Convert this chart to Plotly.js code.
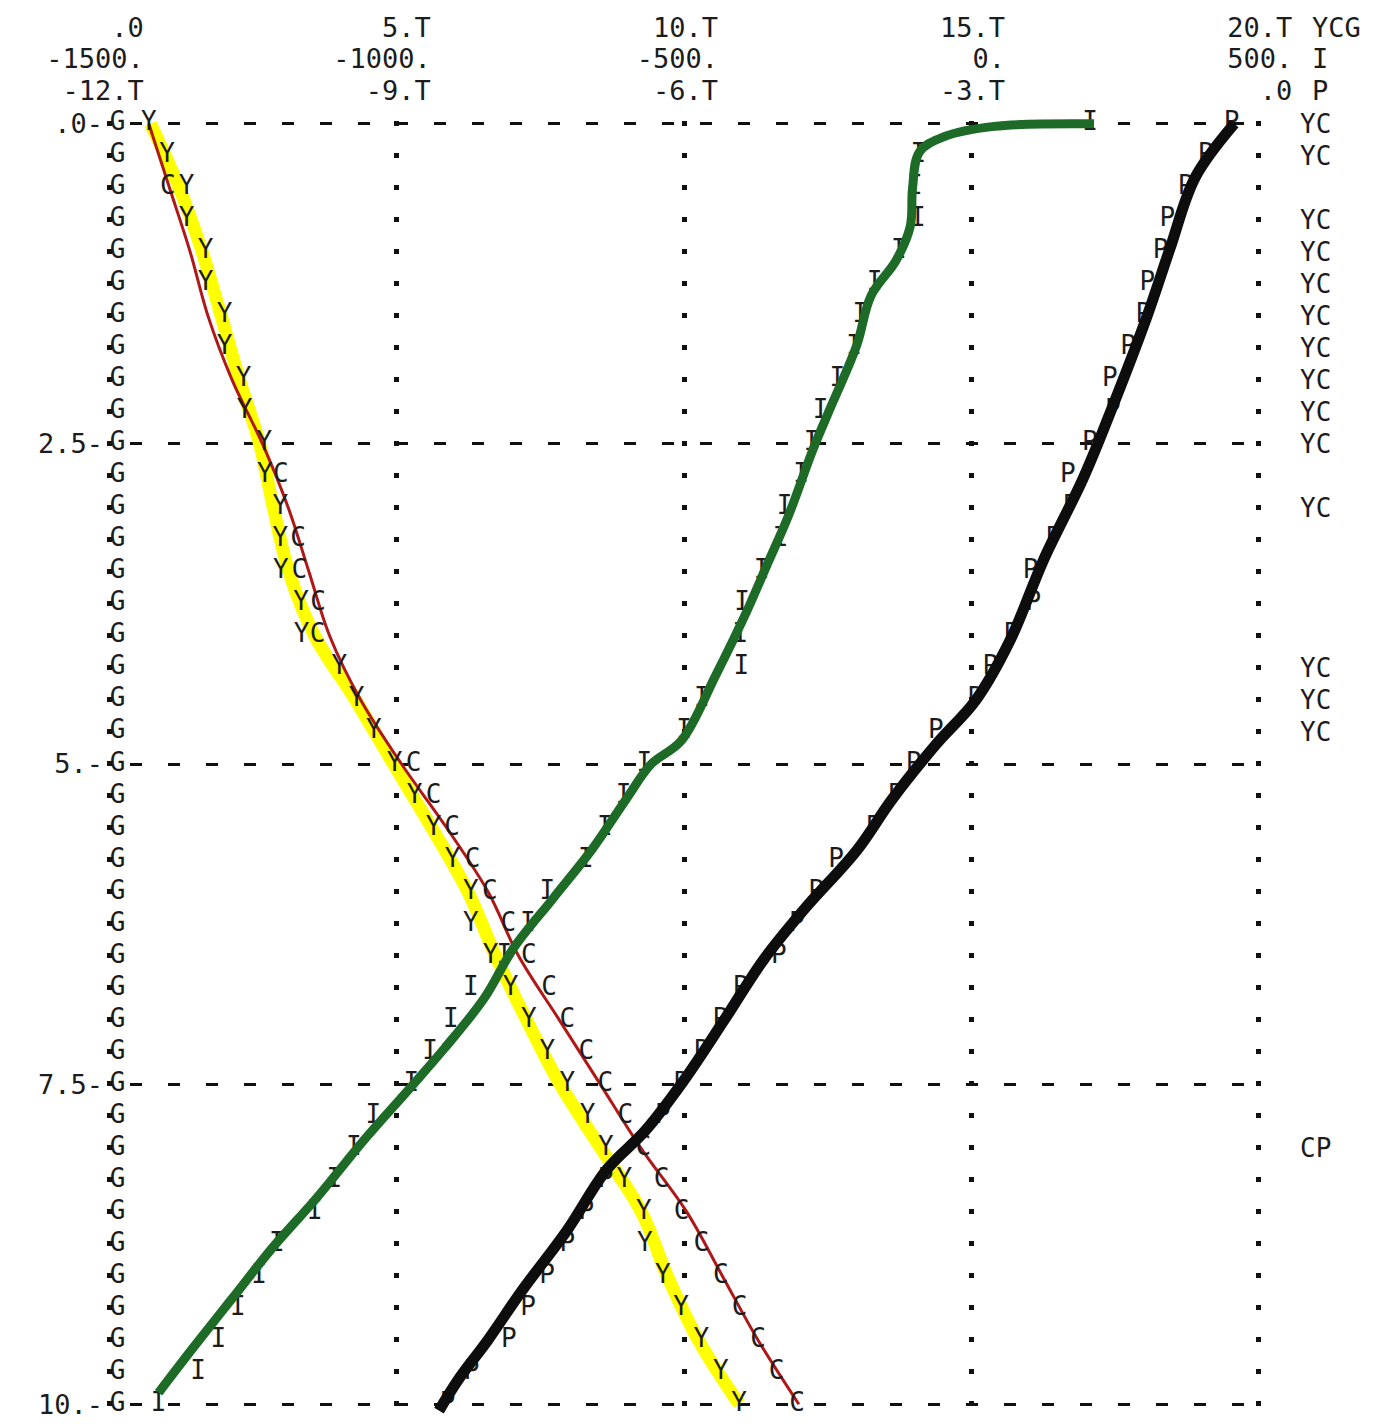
<!DOCTYPE html>
<html>
<head>
<meta charset="utf-8">
<script src="https://cdn.plot.ly/plotly-3.0.1.min.js"></script>
<style>html,body{margin:0;padding:0;background:#fff;}#chart{width:1396px;height:1427px;}</style>
</head>
<body>
<div id="chart"></div>
<script>
// depth rows (vertical axis, 0 at top)
const depth = [0,0.25,0.5,0.75,1,1.25,1.5,1.75,2,2.25,2.5,2.75,3,3.25,3.5,3.75,4,4.25,4.5,4.75,5,
               5.25,5.5,5.75,6,6.25,6.5,6.75,7,7.25,7.5,7.75,8,8.25,8.5,8.75,9,9.25,9.5,9.75,10];
// printed series Y, C, G on the .0 .. 20.T scale
const seriesY = [0.68,1.0,1.34,1.34,1.67,1.67,2.0,2.0,2.33,2.35,2.69,2.70,2.97,2.97,2.98,3.33,3.34,4.0,4.3,4.6,4.96,
                 5.31,5.64,5.97,6.29,6.29,6.63,6.98,7.3,7.62,7.97,8.32,8.64,8.96,9.30,9.32,9.63,9.95,10.30,10.64,10.96];
const seriesC = [0.68,1.0,1.01,1.34,1.67,1.67,2.0,2.0,2.33,2.35,2.69,2.98,2.97,3.28,3.30,3.63,3.62,4.0,4.3,4.6,5.29,
                 5.64,5.96,6.32,6.62,6.94,7.3,7.65,7.97,8.3,8.63,8.98,9.29,9.61,9.96,10.3,10.64,10.97,11.29,11.61,11.97];
const seriesG = [0,0,0,0,0,0,0,0,0,0,0,0,0,0,0,0,0,0,0,0,0,0,0,0,0,0,0,0,0,0,0,0,0,0,0,0,0,0,0,0,0];
// printed series I on the -1500 .. 500 scale
const seriesI = [207,-92,-98,-93,-126,-168,-193,-204,-233,-262,-278,-296,-325,-332,-365,-399,-402,-400,-469,-500,-569,
                 -605,-638,-671,-738,-772,-813,-871,-906,-942,-975,-1041,-1075,-1109,-1143,-1209,-1240,-1277,-1311,-1346,-1415];
// printed series P on the -12.T .. .0 scale
const seriesP = [-0.28,-0.55,-0.76,-0.95,-1.02,-1.16,-1.2,-1.36,-1.55,-1.52,-1.76,-1.99,-1.96,-2.14,-2.38,-2.35,-2.58,-2.8,-2.96,-3.37,-3.6,
                 -3.79,-4.02,-4.41,-4.62,-4.82,-5.01,-5.41,-5.62,-5.82,-6.03,-6.22,-6.43,-6.82,-7.02,-7.22,-7.43,-7.63,-7.83,-8.22,-8.47];

// hand-drawn pen strokes traced over the printout
const penYDepth = [0,0.5,1,1.5,2,2.5,3,3.5,4,4.5,5,5.5,6,6.5,7,7.5,8,8.5,9,9.5,10];
const penY = [0.71,1.21,1.61,1.94,2.26,2.61,2.85,3.12,3.57,4.28,4.94,5.61,6.24,6.72,7.26,7.84,8.55,9.26,9.71,10.25,10.96];
const penCDepth = [0,0.5,1,1.5,2,2.5,3,3.5,4,4.5,5,5.5,6,6.5,7,7.5,8,8.5,9,9.5,10];
const penC = [0.68,1.04,1.40,1.71,2.13,2.66,3.11,3.47,3.83,4.37,5.08,5.87,6.59,7.12,7.83,8.54,9.25,10.05,10.67,11.29,12.0];
const penIDepth = [0,0.02,0.1,0.22,0.5,0.8,1.07,1.34,1.74,2.27,2.55,3.06,3.41,3.84,4.31,4.82,5.0,5.27,5.66,6.05,6.44,6.83,7.22,7.53,7.92,8.39,8.78,9.17,9.56,9.91];
const penI = [214,40,-47,-90,-102,-106,-131,-174,-200,-250,-276,-318,-352,-394,-445,-505,-557,-600,-659,-728,-797,-848,-917,-977,-1054,-1140,-1217,-1286,-1355,-1415];
const penPDepth = [0,0.42,0.97,1.52,2.3,2.77,3.4,4.03,4.5,4.85,5.28,5.67,6.14,6.53,7.0,7.47,7.86,8.17,8.64,9.11,9.5,9.81,10.05];
const penP = [-0.25,-0.66,-0.92,-1.17,-1.57,-1.83,-2.24,-2.59,-2.95,-3.37,-3.83,-4.19,-4.75,-5.17,-5.58,-6.0,-6.4,-6.81,-7.22,-7.69,-8.05,-8.36,-8.56];

// overprint notes in the right margin
const marginRows = [0,0.25,0.75,1,1.25,1.5,1.75,2,2.25,2.5,3,4.25,4.5,4.75,8];
const marginText = ["YC","YC","YC","YC","YC","YC","YC","YC","YC","YC","YC","YC","YC","YC","CP"];
// tick labels
const ycgTicks = [0,5,10,15,20];
const ycgLabels = [".0","5.T","10.T","15.T","20.T"];
const iTicks = [-1500,-1000,-500,0,500];
const iLabels = ["-1500.","-1000.","-500.","0.","500."];
const pTicks = [-12,-9,-6,-3,0];
const pLabels = ["-12.T","-9.T","-6.T","-3.T",".0"];
const depthTicks = [0,2.5,5,7.5,10];
const depthLabels = [".0-","2.5-","5.-","7.5-","10.-"];
const scaleLegend = ["YCG","I","P"];

const MONO = "DejaVu Sans Mono, Liberation Mono, monospace";
const INK = "#1c1c1c";
const letterFont = {family: MONO, size: 26, color: INK};
const tickFont = {family: MONO, size: 27, color: INK};

const XR = [-0.1, 20.1];
const toPaper = (x) => (x - XR[0]) / (XR[1] - XR[0]);

// hidden (overprinted) letter per row from the margin notes
const hidden = {};
marginRows.forEach((r, k) => { hidden[r] = marginText[k].charAt(1); });
const txt = (ch) => depth.map(d => hidden[d] === ch ? "" : ch);

const pen = (color, width) => ({color: color, width: width, shape: "spline", smoothing: 1.0});

const traces = [
  {x: penY, y: penYDepth, mode: "lines", line: pen("#ffff00", 13), hoverinfo: "skip"},
  {x: penC, y: penCDepth, mode: "lines", line: pen("#b01818", 3), hoverinfo: "skip"},
  {x: seriesG, y: depth, mode: "text", text: depth.map(() => "G"), textposition: "middle right", textfont: letterFont, cliponaxis: false},
  {x: seriesY, y: depth, mode: "text", text: txt("Y"), textposition: "middle center", textfont: letterFont, cliponaxis: false},
  {x: seriesC, y: depth, mode: "text", text: txt("C"), textposition: "middle center", textfont: letterFont, cliponaxis: false},
  {x: seriesI, y: depth, xaxis: "x2", mode: "text", text: txt("I"), textposition: "middle center", textfont: letterFont, cliponaxis: false},
  {x: penI, y: penIDepth, xaxis: "x2", mode: "lines", line: pen("#1e6b28", 9), hoverinfo: "skip"},
  {x: seriesP, y: depth, xaxis: "x3", mode: "text", text: txt("P"), textposition: "middle center", textfont: letterFont, cliponaxis: false},
  {x: penP, y: penPDepth, xaxis: "x3", mode: "lines", line: pen("#0d0d0d", 11), hoverinfo: "skip"}
];

const baseTop = {side: "top", anchor: "y", ticks: "", showline: false, zeroline: false,
                 tickfont: tickFont, ticklabelposition: "outside left", ticklabelshift: 34, fixedrange: true};

const annotations = marginRows.map((r, k) => ({
  text: marginText[k], xref: "paper", yref: "y", x: toPaper(21.0), y: r,
  xanchor: "center", yanchor: "middle", showarrow: false, font: letterFont
}));
const legendY = [1.064, 1.0405, 1.016];
scaleLegend.forEach((s, k) => annotations.push({
  text: s, xref: "paper", yref: "paper", x: toPaper(20.9), y: legendY[k],
  xanchor: "left", yanchor: "middle", showarrow: false, font: tickFont
}));

const layout = {
  width: 1396, height: 1427,
  margin: {l: 104, r: 132, t: 111, b: 10},
  paper_bgcolor: "#ffffff", plot_bgcolor: "#ffffff",
  showlegend: false,
  xaxis: Object.assign({}, baseTop, {
    range: XR, tickvals: ycgTicks, ticktext: ycgLabels,
    showgrid: true, gridcolor: "#111", gridwidth: 5, griddash: "0px,10px,5px,17px",
    ticklabelstandoff: 68
  }),
  xaxis2: Object.assign({}, baseTop, {
    overlaying: "x", range: [-1510, 510], tickvals: iTicks, ticktext: iLabels,
    showgrid: false, ticklabelstandoff: 37
  }),
  xaxis3: Object.assign({}, baseTop, {
    overlaying: "x", range: [-12.06, 0.06], tickvals: pTicks, ticktext: pLabels,
    showgrid: false, ticklabelstandoff: 5
  }),
  yaxis: {
    range: [10.1, -0.1], tickvals: depthTicks, ticktext: depthLabels,
    showgrid: true, gridcolor: "#111", gridwidth: 3, griddash: "0px,26px,12px,0px",
    zeroline: false, showline: false, ticks: "", tickfont: tickFont, ticklabelstandoff: 0, fixedrange: true
  },
  annotations: annotations
};

Plotly.newPlot("chart", traces, layout, {staticPlot: true, displayModeBar: false});
</script>
</body>
</html>
